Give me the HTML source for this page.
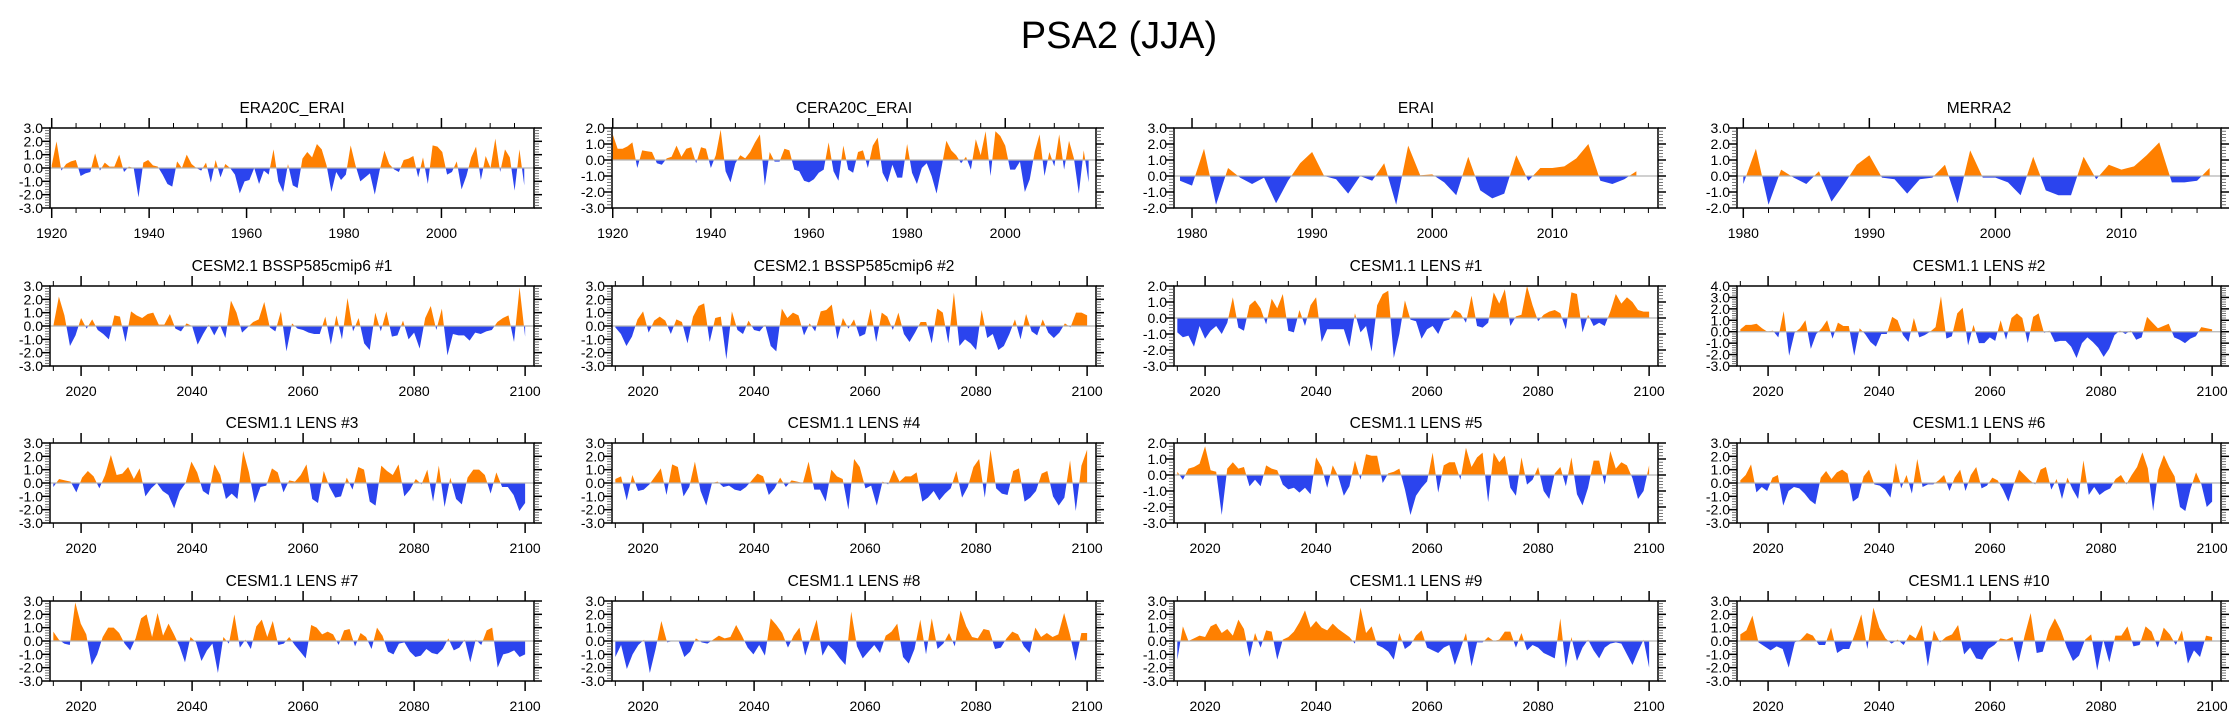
<!DOCTYPE html>
<html><head><meta charset="utf-8"><style>
html,body{margin:0;padding:0;background:#fff;}
svg{display:block;font-family:"Liberation Sans",Arial,sans-serif;}
</style></head><body>
<svg id="chart" width="2238" height="719" viewBox="0 0 2238 719" xmlns="http://www.w3.org/2000/svg">
<text x="1119" y="48" text-anchor="middle" font-size="38">PSA2 (JJA)</text>
</svg>
<script>
// ---- data ----
const panelTitles = ["ERA20C_ERAI","CERA20C_ERAI","ERAI","MERRA2","CESM2.1 BSSP585cmip6 #1","CESM2.1 BSSP585cmip6 #2","CESM1.1 LENS #1","CESM1.1 LENS #2","CESM1.1 LENS #3","CESM1.1 LENS #4","CESM1.1 LENS #5","CESM1.1 LENS #6","CESM1.1 LENS #7","CESM1.1 LENS #8","CESM1.1 LENS #9","CESM1.1 LENS #10"];
const yTop = [3,2,3,3,3,3,2,4,3,3,2,3,3,3,3,3];
const yBottom = [-3,-3,-2,-2,-3,-3,-3,-3,-3,-3,-3,-3,-3,-3,-3,-3];
const firstYear = [1920,1920,1979,1980,2015,2015,2015,2015,2015,2015,2015,2015,2015,2015,2015,2015];
const lastYear = [2017,2017,2017,2017,2100,2100,2100,2100,2100,2100,2100,2100,2100,2100,2100,2100];
const axisMin = [1919.65,1919.85,1978.5,1979.5,2014.4,2014.4,2014.4,2014.4,2014.4,2014.4,2014.4,2014.4,2014.4,2014.4,2014.4,2014.4];
const axisMax = [2019.0,2018.5,2018.8,2017.9,2101.6,2101.6,2101.6,2101.6,2101.6,2101.6,2101.6,2101.6,2101.6,2101.6,2101.6,2101.6];
const majorStep = [20,20,10,10,20,20,20,20,20,20,20,20,20,20,20,20];
const minorStep = [5,5,2,2,5,5,5,5,5,5,5,5,5,5,5,5];

const era20c = [0.2,2.0,-0.2,0.3,0.5,0.6,-0.6,-0.4,-0.3,1.1,-0.2,0.4,0.1,0.1,1.0,-0.3,0.1,0.0,-2.2,0.4,0.6,0.2,0.1,-0.5,-1.2,-1.4,0.5,0.0,1.0,0.3,0.0,-0.2,0.4,-1.1,0.6,-0.7,0.3,0.0,-0.5,-1.9,-1.0,-0.9,0.0,-1.2,-0.2,-0.5,1.4,-1.0,-1.8,0.3,-1.3,-1.5,0.7,1.2,0.8,1.8,1.4,0.2,-1.8,-0.3,-0.9,-0.5,1.7,0.2,-1.0,-0.7,-0.4,-2.0,-0.2,1.3,0.3,-0.1,-0.3,0.6,0.7,0.9,-0.7,0.8,-1.2,1.7,1.6,1.2,-0.5,-0.3,0.5,-1.6,-0.6,0.8,1.6,-0.9,0.9,0.0,2.2,-0.3,1.4,0.8,-1.7,1.4,-1.3];
const cera20c = [1.6,0.7,0.7,0.85,1.1,-0.5,0.6,0.55,0.5,-0.2,-0.3,0.1,0.2,0.9,0.2,0.7,0.8,-0.2,0.8,0.7,-0.5,0.3,1.9,-0.7,-1.4,-0.2,0.3,0.1,0.5,1.1,1.6,-1.6,0.5,-0.1,-0.1,0.7,0.6,-0.6,-0.7,-1.3,-1.4,-1.2,-0.8,-0.6,1.1,-0.7,-1.3,0.9,-0.6,-0.8,0.5,0.6,-0.5,0.9,1.4,-0.8,-1.4,-0.3,-1.1,-1.1,1.0,-0.8,-1.5,-0.5,-0.2,-1.0,-2.1,-0.5,1.2,0.6,0.3,-0.2,0.2,-0.6,1.3,0.3,1.8,-1.0,1.8,1.5,0.9,-0.6,-0.6,-0.1,-2.0,-1.2,0.5,1.6,-1.0,0.5,-0.4,1.6,-0.6,1.2,0.1,-2.1,0.6,-1.4];
const erai = [-0.3,-0.6,1.7,-1.8,0.5,-0.1,-0.5,-0.1,-1.7,-0.3,0.8,1.5,0.0,-0.2,-1.1,0.0,-0.3,0.8,-1.8,1.9,0.05,0.1,-0.4,-1.2,1.2,-0.9,-1.4,-1.1,1.3,-0.3,0.5,0.5,0.6,1.1,2.0,-0.3,-0.5,-0.2,0.3];
const merra2 = [-0.5,1.7,-1.8,0.4,-0.1,-0.5,0.3,-1.6,-0.5,0.7,1.3,-0.1,-0.2,-1.1,-0.2,-0.1,0.7,-1.7,1.6,-0.1,-0.1,-0.4,-1.2,1.2,-0.9,-1.2,-1.2,1.2,-0.2,0.7,0.4,0.6,1.3,2.1,-0.4,-0.4,-0.3,0.5];
const cesm2m1 = [0.0,2.2,0.8,-1.5,-0.7,0.6,-0.2,0.5,-0.3,-0.6,-1.0,0.8,0.7,-1.2,1.1,0.8,0.6,0.9,1.0,0.1,0.1,0.9,-0.2,-0.4,0.2,0.0,-1.4,-0.6,0.1,-0.7,0.1,-0.9,1.9,1.0,-0.5,-0.1,0.3,0.5,1.8,-0.1,-0.4,1.1,-1.9,0.2,-0.2,-0.3,-0.5,-0.6,-0.6,0.7,-1.4,0.8,-1.0,2.1,-0.4,0.6,-1.3,-1.8,1.0,-0.4,1.1,-0.8,-0.7,0.4,-1.0,-0.5,-1.7,0.6,1.5,-0.3,1.3,-2.2,-0.6,-0.7,-0.7,-1.1,-0.5,-0.6,-0.4,-0.3,0.3,0.6,0.8,-1.2,2.9,-0.8];
const cesm2m2 = [-0.1,-0.6,-1.5,-0.8,0.5,1.1,-0.5,0.4,0.7,0.4,-0.6,0.5,0.3,-1.3,0.7,1.5,1.7,-1.2,0.6,0.7,-2.5,1.1,-0.3,-0.6,0.4,-0.3,-0.4,0.1,-1.5,-1.9,1.3,0.6,1.0,0.8,-0.7,0.2,-0.4,1.1,1.2,1.6,-1.0,0.6,-0.2,0.5,-0.8,-0.6,1.3,-1.2,1.0,0.7,-0.3,1.0,-0.6,-1.2,-0.5,0.3,0.3,-1.3,1.3,1.0,-1.3,2.5,-1.5,-1.0,-1.3,-1.8,1.2,-0.9,-0.6,-1.8,-1.5,-0.6,0.5,-1.0,0.9,-0.4,-0.7,0.5,-0.5,-0.9,-0.5,0.2,-0.1,1.0,1.0,0.8];
const lens1 = [-0.9,-1.2,-1.1,-1.8,-0.5,-1.3,-0.8,-0.5,-1.0,-0.3,1.3,-0.6,-0.8,0.8,1.1,0.6,-0.4,1.2,0.6,1.5,-0.8,-0.9,0.5,-0.5,0.8,1.3,-1.5,-0.7,-0.7,-0.7,-0.7,-1.8,0.3,-0.9,-0.5,-2.1,0.8,1.5,1.7,-2.5,-1.0,1.1,-0.1,-0.2,-1.3,-0.7,-0.5,-1.0,-0.2,-0.1,0.5,0.3,-0.3,1.4,-0.5,-0.6,-0.3,1.6,0.9,1.8,-0.5,0.1,0.2,2.0,0.8,-0.2,0.2,0.4,0.5,0.3,-0.7,1.6,1.5,-0.9,0.2,-0.5,-0.3,-0.5,0.4,1.5,0.9,1.3,1.0,0.5,0.4,0.4];
const lens2 = [0.2,0.6,0.6,0.7,0.3,0.0,0.1,-0.5,1.8,-2.1,-0.1,0.3,1.0,-1.5,-0.2,0.3,1.0,-0.6,0.8,0.5,0.5,-2.1,0.3,-0.2,-0.9,-1.3,-0.2,-0.2,1.3,1.0,-0.3,-0.9,1.2,-0.5,-0.3,0.0,0.4,3.1,-0.6,-0.4,1.6,2.1,-1.2,0.6,-1.0,-1.0,-0.5,-0.8,1.0,-0.7,1.2,1.6,1.2,-1.0,1.3,1.6,-0.1,0.1,-0.9,-0.8,-0.8,-1.3,-2.3,-1.0,-0.5,-0.9,-1.4,-2.2,-1.5,-0.3,0.1,-0.2,0.1,-0.7,-0.5,1.3,0.8,0.3,0.5,0.7,-0.5,-0.7,-1.0,-0.6,-0.4,0.4,0.3,0.2];
const lens3 = [-0.3,0.3,0.2,0.1,-0.7,0.4,0.9,0.5,-0.4,0.6,2.1,0.6,0.7,1.2,0.3,1.1,-1.0,-0.4,0.0,-0.6,-0.9,-1.9,-0.6,0.0,1.6,0.8,-0.6,-0.9,1.4,0.6,-1.2,-0.8,-1.2,2.4,0.8,-1.5,-0.3,-0.2,1.1,0.8,-0.7,0.2,0.1,0.6,1.4,-1.2,-1.5,0.9,-0.3,-1.1,-1.0,0.4,-0.5,1.2,1.0,-1.4,-1.7,1.3,0.9,0.6,1.4,-1.0,-0.5,0.3,-0.1,1.0,-1.4,1.3,-1.8,0.4,-1.2,-1.6,0.4,1.0,1.0,0.6,-0.8,0.8,-0.3,-0.3,-0.9,-2.1,-1.5];
const lens4 = [0.3,0.5,-1.3,0.6,-0.6,-0.5,-0.1,0.5,1.1,-0.9,1.4,1.2,-1.0,-0.3,1.6,-0.6,-1.7,0.0,0.1,-0.3,-0.2,-0.5,-0.6,-0.3,0.2,0.7,0.5,-0.9,-0.4,0.4,-0.3,0.2,0.1,0.0,1.6,-0.5,-0.5,-1.4,1.0,0.5,0.3,-2.0,1.8,1.2,-0.4,-0.2,-1.7,0.1,-0.1,1.0,0.1,0.5,0.5,0.8,-1.4,-1.1,-0.6,-1.3,-0.8,-0.4,0.9,-1.1,-0.3,1.2,1.8,-1.1,2.5,-0.4,-0.8,-0.9,0.9,1.1,-1.4,-1.1,-0.6,0.7,0.9,-1.0,-1.7,-1.1,1.7,-2.1,1.3,2.5];
const lens5 = [0.2,-0.3,0.4,0.5,0.7,1.8,0.3,0.2,-2.5,0.4,0.8,0.4,0.5,-0.7,-0.3,-0.7,0.6,0.4,0.3,-0.6,-0.9,-0.8,-1.1,-0.8,-1.2,1.1,0.5,-0.8,0.6,-0.1,-1.3,-0.7,0.9,-0.3,1.3,1.2,1.2,-0.5,0.1,0.2,0.4,-0.9,-2.5,-1.3,-0.8,-0.4,1.4,-1.1,0.6,0.8,0.8,-0.3,1.7,0.5,1.1,1.4,-1.7,1.4,0.8,1.2,-0.8,-1.3,1.1,-0.6,-0.3,0.5,-1.0,-1.5,0.1,0.5,-0.7,1.1,-1.2,-1.9,-0.8,0.9,0.9,-0.6,1.5,0.4,0.8,0.6,-0.2,-1.5,-1.0,0.6];
const lens6 = [0.2,0.6,1.4,-0.7,-0.3,-0.6,0.4,0.6,-1.7,-0.6,-0.3,-0.4,-0.8,-1.3,-1.6,0.4,0.9,0.3,0.8,1.0,0.7,-1.4,-1.1,0.5,1.0,-0.1,-0.2,-0.5,-1.1,1.5,-0.4,0.6,-0.8,1.8,-0.3,-0.1,-0.1,0.2,0.6,-0.6,0.4,1.0,-0.6,0.6,1.2,-0.4,-0.2,0.4,0.2,-0.5,-1.4,-0.1,1.0,0.6,0.2,-0.1,1.0,1.2,-0.5,0.3,-1.2,0.4,-0.5,-1.2,1.7,-0.9,-0.3,-0.9,-0.6,-0.4,0.3,0.6,-0.1,0.6,1.2,2.3,1.1,-2.1,1.0,2.1,1.2,0.5,-1.8,-2.1,-0.4,0.8,-0.1,-1.8,-1.4];
const lens7 = [0.7,0.1,-0.2,-0.3,2.9,1.3,0.5,-1.8,-1.0,0.3,1.0,1.0,0.6,-0.2,-0.7,0.2,1.7,2.0,0.3,2.1,0.4,1.3,0.5,-0.4,-1.6,0.3,-0.1,-1.5,-0.7,-0.2,-2.4,0.3,-0.2,2.0,-0.5,0.1,-0.6,1.1,1.6,0.3,1.5,-0.3,-0.2,0.3,-0.3,-0.8,-1.3,1.2,1.0,0.5,0.7,0.5,-0.3,0.8,0.9,-0.4,0.6,0.3,-0.6,1.0,0.4,-0.8,-1.0,-0.2,-0.1,-0.8,-1.2,-1.1,-0.6,-0.9,-1.0,-0.6,0.2,-0.7,-0.5,0.1,-1.6,0.1,-0.3,0.8,1.0,-2.0,-1.0,-0.9,-0.7,-1.2,-1.0];
const lens8 = [-1.2,-0.3,-2.1,-1.0,-0.3,0.1,-2.4,-0.6,1.5,-0.1,0.0,0.0,-1.2,-0.8,0.2,-0.1,-0.2,0.1,0.4,0.2,0.3,1.2,0.4,-0.5,-1.0,-0.3,-1.1,1.7,1.2,0.6,-0.5,0.4,1.0,-1.1,0.3,1.6,-1.1,-0.3,-0.7,-1.3,-1.8,2.2,-0.4,-1.3,-0.8,-0.3,-0.9,0.4,0.7,1.3,-1.2,-1.7,-0.6,1.6,-1.0,1.7,-0.6,-0.2,0.6,-0.4,2.3,1.1,0.3,0.2,0.9,0.8,-0.6,-0.5,0.2,0.7,0.5,-0.4,-0.9,1.0,0.3,0.6,0.3,0.5,2.1,0.5,-1.5,0.6,0.6];
const lens9 = [-1.4,1.1,0.0,0.2,0.4,0.3,1.1,1.3,0.6,0.9,0.4,1.6,0.9,-1.2,0.6,-0.5,0.8,0.7,-1.4,0.1,0.3,0.7,1.4,2.3,1.0,1.5,1.0,0.8,1.3,0.9,0.6,0.3,-0.2,2.5,0.6,1.1,-0.3,-0.5,-0.8,-1.4,0.6,-0.6,-0.3,0.4,0.8,-0.5,-0.7,-0.9,-0.5,-0.3,-1.8,-0.6,0.6,-1.9,-0.1,-0.1,0.3,0.0,0.1,0.7,0.7,-0.5,0.6,-0.7,-0.3,-0.5,-0.9,-1.1,-1.3,1.7,-2.0,0.3,-1.5,-0.5,0.1,-0.7,-1.3,-0.5,-0.2,-0.1,-0.2,-1.0,-1.8,-0.8,0.1,-2.0];
const lens10 = [0.5,0.8,1.9,-0.1,-0.4,-0.7,-0.4,-0.6,-2.0,-0.1,0.1,0.6,0.4,-0.3,-0.3,1.0,-0.9,-0.6,-0.6,0.6,2.0,-0.6,2.5,1.0,0.2,-0.2,0.1,-0.3,0.5,0.2,1.2,-1.9,0.8,-0.1,0.3,0.5,1.2,-1.0,-0.5,-1.3,-1.4,-0.6,-0.3,0.2,0.1,0.3,-1.6,0.4,2.1,-0.9,-0.8,0.8,1.7,0.8,-0.5,-1.5,-1.1,0.1,0.5,-2.2,0.1,-1.6,0.4,0.4,1.1,-0.4,-0.3,1.1,0.7,-0.5,1.0,0.5,-0.3,0.8,-1.7,-0.7,-1.2,0.4,0.3];
const seriesList = [era20c,cera20c,erai,merra2,cesm2m1,cesm2m2,lens1,lens2,lens3,lens4,lens5,lens6,lens7,lens8,lens9,lens10];

// ---- layout ----
const NS = "http://www.w3.org/2000/svg";
const svg = document.getElementById("chart");
const colLeft = [50,612,1174,1737];
const rowTop = [128,286,443,601];
const W = 484, H = 80;
function mk(tag, attrs, parent){ const e=document.createElementNS(NS,tag); for(const k in attrs) e.setAttribute(k,attrs[k]); (parent||svg).appendChild(e); return e; }
const slug = s => s.toLowerCase().replace(/[^a-z0-9]+/g,'-').replace(/^-|-$/g,'');

seriesList.forEach((vals, p) => {
  const L = colLeft[p%4], T = rowTop[Math.floor(p/4)];
  const g = mk("g",{});
  
  
  const xs = yr => L + (yr - axisMin[p]) / (axisMax[p] - axisMin[p]) * W;
  const ys = v => T + (yTop[p] - v) / (yTop[p] - yBottom[p]) * H;
  const n = vals.length;
  const yearOf = i => firstYear[p] + i * (lastYear[p] - firstYear[p]) / (n - 1);
  const y0 = ys(0);
  // area
  let pts = vals.map((v,i)=> xs(yearOf(i)).toFixed(2)+","+ys(v).toFixed(2));
  pts.push(xs(yearOf(n-1)).toFixed(2)+","+y0, xs(yearOf(0)).toFixed(2)+","+y0);
  const cpU = mk("clipPath",{id:"cu"+p},g); mk("rect",{x:L,y:T,width:W,height:y0-T},cpU);
  const cpD = mk("clipPath",{id:"cd"+p},g); mk("rect",{x:L,y:y0,width:W,height:T+H-y0},cpD);
  const pos = mk("polygon",{points:pts.join(" "),fill:"#ff8000","clip-path":"url(#cu"+p+")"},g);
  
  
  const neg = mk("polygon",{points:pts.join(" "),fill:"#2b44ee","clip-path":"url(#cd"+p+")"},g);
  
  
  const zl = mk("line",{x1:L,x2:L+W,y1:y0,y2:y0,stroke:"#b4b4b4","stroke-width":1.2},g);
  
  
  // frame
  const fr = mk("rect",{x:L,y:T,width:W,height:H,fill:"none",stroke:"#000","stroke-width":1.5},g);
  
  
  // x ticks
  const start = Math.ceil(axisMin[p]/minorStep[p])*minorStep[p];
  for(let yr=start; yr<=axisMax[p]; yr+=minorStep[p]){
    const x = xs(yr), major = yr % majorStep[p] === 0, len = major?10:5;
    mk("line",{x1:x,x2:x,y1:T,y2:T-len,stroke:"#000","stroke-width":major?1.5:1},g);
    mk("line",{x1:x,x2:x,y1:T+H,y2:T+H+len,stroke:"#000","stroke-width":major?1.5:1},g);
    if(major){
      const t = mk("text",{x:x,y:T+H+30,"text-anchor":"middle","font-size":14},g);
      t.textContent = yr;
      
      
    }
  }
  // y ticks
  for(let k=Math.round(yBottom[p]*5); k<=yTop[p]*5; k++){
    const v = k/5, y = ys(v), major = k%5===0, len = major?8:5;
    mk("line",{x1:L,x2:L-len,y1:y,y2:y,stroke:major?"#000":"#555","stroke-width":major?1.5:0.8},g);
    mk("line",{x1:L+W,x2:L+W+len,y1:y,y2:y,stroke:major?"#000":"#555","stroke-width":major?1.5:0.8},g);
    if(major){
      const t = mk("text",{x:L-7,y:y+5,"text-anchor":"end","font-size":14},g);
      t.textContent = v.toFixed(1);
      
      
    }
  }
  const tt = mk("text",{x:L+W/2,y:T-15,"text-anchor":"middle","font-size":15.5},g);
  tt.textContent = panelTitles[p];
  
  
});
</script>
</body></html>
